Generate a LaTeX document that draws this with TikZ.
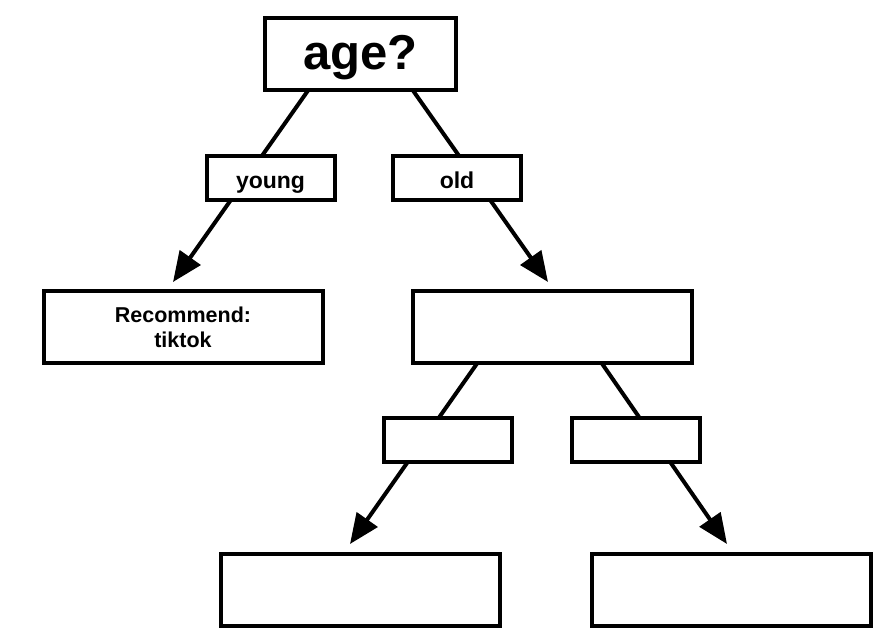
\documentclass[tikz,border=0pt]{standalone}
\usepackage{fontspec}
\setmainfont{Liberation Sans}
\usetikzlibrary{arrows.meta,calc}
\pgfdeclarelayer{bg}
\pgfsetlayers{bg,main}
\begin{document}
\begin{tikzpicture}[x=1pt,y=-1pt,
  box/.style={draw=black, line width=4pt, fill=white, inner sep=0pt, align=center},
  bigbox/.style={box, minimum width=279pt, minimum height=72pt},
  smallbox/.style={box, minimum width=128pt, minimum height=44pt,
    font=\bfseries\fontsize{23}{23}\selectfont, text height=20pt, text depth=0pt},
  conn/.style={line width=4pt},
  arr/.style={conn, -{Triangle[length=30pt,width=25pt]}}]
\useasboundingbox (0,0) rectangle (891,641);
\node[box, minimum width=191pt, minimum height=72pt,
  font=\bfseries\fontsize{49}{49}\selectfont, text height=31pt, text depth=0pt] (age) at (360.5,54) {age?};
\node[smallbox] (young) at (270.5,178) {young};
\node[smallbox] (old) at (457,178) {old};
\node[bigbox, font=\bfseries\fontsize{21.5}{25}\selectfont] (rec) at (183,327) {Recommend:\\tiktok};
\node[bigbox] (mid) at (552.5,327) {};
\node[smallbox] (sl) at (448,440) {};
\node[smallbox] (sr) at (636,440) {};
\node[bigbox] (bl) at (360,590) {};
\node[bigbox] (br) at (731.5,590) {};
\begin{pgfonlayer}{bg}
\draw[arr] ($(age.south)+(-50.7,-4)$) -- ($(rec.north)+(-10,-7)$);
\draw[arr] ($(age.south)+(50.7,-4)$) -- ($(mid.north)+(-4.5,-7)$);
\draw[arr] ($(mid.south)+(-73.7,-4)$) -- ($(bl.north)+(-10,-8)$);
\draw[arr] ($(mid.south)+(47.7,-4)$) -- ($(br.north)+(-4.5,-8)$);
\end{pgfonlayer}
\end{tikzpicture}
\end{document}
